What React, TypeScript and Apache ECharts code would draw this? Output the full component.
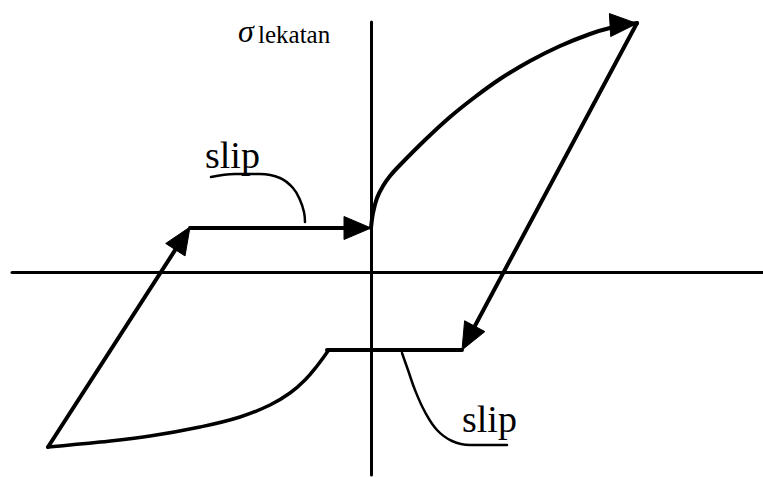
import React, { useEffect, useRef } from "react";
import * as echarts from "echarts";

// Diagram units: slip (x) and bond stress (y), origin at the axis crossing.
const X_RANGE = [-35.9, 39.2];
const Y_RANGE = [-20.3, 25.0];

// Loading branch: rising curve from the origin slip level to the peak
const upperCurve: [number, number][] = [
  [0, 4.4], [0.2, 5.9], [0.6, 7.4], [1.2, 8.6], [1.9, 9.6], [2.9, 10.7],
  [5.4, 13.2], [7.9, 15.5], [10.4, 17.5], [12.9, 19.3], [15.9, 21.1],
  [18.9, 22.6], [21.9, 23.8], [23.9, 24.4], [26.6, 24.9],
];
// Reverse loading branch in the negative quadrant
const lowerCurve: [number, number][] = [
  [-32.3, -17.5], [-27.1, -17.0], [-22.1, -16.4], [-17.1, -15.5], [-13.1, -14.5],
  [-10.1, -13.3], [-8.1, -12.1], [-6.6, -10.8], [-5.4, -9.4], [-4.3, -7.9],
];
// Lower slip plateau
const lowerSlip: [number, number][] = [[-4.4, -7.8], [9.1, -7.8]];
// Leader lines for the "slip" labels
const upperLeader: [number, number][] = [
  [-16.0, 9.5], [-13.6, 9.8], [-11.1, 9.8], [-9.1, 9.4], [-7.8, 8.4],
  [-7.1, 7.2], [-6.7, 6.0], [-6.6, 5.0],
];
const lowerLeader: [number, number][] = [
  [3.1, -8.1], [3.7, -9.8], [4.4, -11.8], [5.4, -14.0], [6.6, -15.8],
  [8.1, -16.9], [9.9, -17.3], [13.6, -17.3],
];
// Arrows: [fromX, fromY, toX, toY, drawShaft]
const arrows: number[][] = [
  [-32.3, -17.5, -18.1, 4.5, 1], // reloading diagonal
  [-18.1, 4.4, 0, 4.4, 1],       // upper slip plateau
  [26.6, 24.9, 9.1, -7.8, 1],    // unloading diagonal
  [24.0, 24.7, 26.6, 24.85, 0],  // head at end of loading curve
];

const axisLabel = { sigma: "σ", sub: "lekatan" };
const slipLabel = "slip";

const FONT = "'Liberation Serif', 'Times New Roman', serif";

export default function App() {
  const ref = useRef<HTMLDivElement>(null);
  useEffect(() => {
    if (!ref.current) return;
    const chart = echarts.init(ref.current, null, { renderer: "svg" });
    const lineSeries = (data: [number, number][], width: number, smooth: number | boolean) => ({
      type: "line",
      data,
      smooth,
      symbol: "none",
      showSymbol: false,
      lineStyle: { color: "#000", width, cap: "round" },
      silent: true,
      z: 3,
    });
    chart.setOption({
      animation: false,
      backgroundColor: "#fff",
      grid: { left: 12, top: 22, width: 751, height: 453, containLabel: false },
      xAxis: {
        type: "value",
        min: X_RANGE[0],
        max: X_RANGE[1],
        axisLine: { show: true, onZero: true, lineStyle: { color: "#000", width: 3 } },
        axisTick: { show: false },
        axisLabel: { show: false },
        splitLine: { show: false },
      },
      yAxis: {
        type: "value",
        min: Y_RANGE[0],
        max: Y_RANGE[1],
        axisLine: { show: true, onZero: true, lineStyle: { color: "#000", width: 3 } },
        axisTick: { show: false },
        axisLabel: { show: false },
        splitLine: { show: false },
      },
      series: [
        lineSeries(upperCurve, 4, 0.35),
        lineSeries(lowerCurve, 3.5, 0.4),
        lineSeries(lowerSlip, 4, false),
        lineSeries(upperLeader, 2.5, 0.4),
        lineSeries(lowerLeader, 2.5, 0.4),
        {
          type: "custom",
          data: arrows,
          encode: { x: [0, 2], y: [1, 3] },
          clip: false,
          z: 4,
          renderItem: (params: any, api: any) => {
            const p1 = api.coord([api.value(0), api.value(1)]);
            const p2 = api.coord([api.value(2), api.value(3)]);
            const shaft = api.value(4);
            const dx = p2[0] - p1[0];
            const dy = p2[1] - p1[1];
            const len = Math.hypot(dx, dy) || 1;
            const ux = dx / len;
            const uy = dy / len;
            const L = 27;
            const W = 11.5;
            const bx = p2[0] - ux * L;
            const by = p2[1] - uy * L;
            const children: any[] = [];
            if (shaft) {
              children.push({
                type: "line",
                shape: { x1: p1[0], y1: p1[1], x2: bx + ux * 4, y2: by + uy * 4 },
                style: { stroke: "#000", lineWidth: 4, lineCap: "round" },
              });
            }
            children.push({
              type: "polygon",
              shape: {
                points: [
                  [p2[0], p2[1]],
                  [bx - uy * W, by + ux * W],
                  [bx + uy * W, by - ux * W],
                ],
              },
              style: { fill: "#000", stroke: "#000", lineWidth: 1 },
            });
            return { type: "group", children };
          },
        },
      ],
      graphic: [
        {
          type: "text",
          x: 238,
          y: 31,
          style: {
            text: axisLabel.sigma,
            font: `italic 32px ${FONT}`,
            fill: "#000",
            verticalAlign: "middle",
            align: "left",
          },
        },
        {
          type: "text",
          x: 258,
          y: 34,
          style: {
            text: axisLabel.sub,
            font: `25px ${FONT}`,
            fill: "#000",
            verticalAlign: "middle",
            align: "left",
          },
        },
        {
          type: "text",
          x: 205,
          y: 155,
          style: {
            text: slipLabel,
            font: `38px ${FONT}`,
            fill: "#000",
            verticalAlign: "middle",
            align: "left",
          },
        },
        {
          type: "text",
          x: 462,
          y: 419,
          style: {
            text: slipLabel,
            font: `38px ${FONT}`,
            fill: "#000",
            verticalAlign: "middle",
            align: "left",
          },
        },
      ],
    });
    return () => chart.dispose();
  }, []);
  return (
    <div
      ref={ref}
      style={{ position: "fixed", left: 0, top: 0, width: 763, height: 477, background: "#fff" }}
    />
  );
}
